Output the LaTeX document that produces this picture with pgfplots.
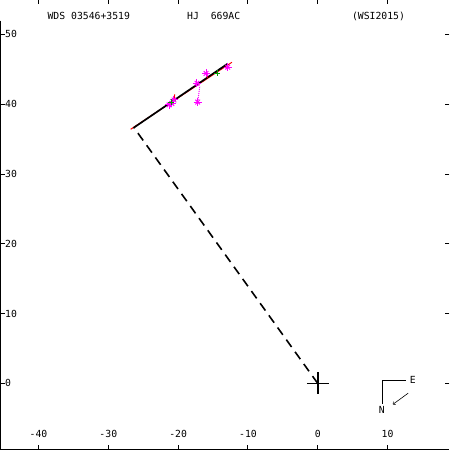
\documentclass[border=0pt]{standalone}
\usepackage{pgfplots}
\pgfplotsset{compat=1.18}
\usepackage{fontspec}
\setmainfont{DejaVu Sans Mono}
\definecolor{mag}{RGB}{255,0,255}
\definecolor{grn}{RGB}{0,160,0}
\begin{document}
\begin{tikzpicture}
\begin{axis}[
  scale only axis, width=450pt, height=450pt,
  xmin=-45.43, xmax=18.857, ymin=-9.43, ymax=54.857,
  axis line style={draw=none},
  tick align=inside, major tick length=4pt,
  tick style={black, line width=0.9pt},
  xtick={-40,-30,-20,-10,0,10}, ytick={0,10,20,30,40,50},
  /pgf/number format/assume math mode=true,
  tick label style={font=\fontsize{9.8}{11}\selectfont},
  xticklabel style={anchor=center, yshift=15pt},
  yticklabel style={anchor=west, xshift=1pt},
  clip=false,
]
\draw[black, line width=1.2pt] (rel axis cs:0,0.955) -- (rel axis cs:0,0) -- (rel axis cs:1,0);
% dashed line from origin to start of motion
\addplot[black, line width=1.6pt, dash pattern=on 9pt off 6pt] coordinates {(0,0) (-26.3,36.6)};
% red fit line
\addplot[red, line width=1pt] coordinates {(-26.8,36.4) (-12.3,46.0)};
% black fit line
\addplot[black, line width=1.7pt] coordinates {(-26.4,36.6) (-12.9,45.8)};
% residuals
\addplot[mag, line width=1pt, densely dotted] coordinates {(-17.2,40.3) (-16.9,42.6)};
\addplot[mag, line width=1pt, densely dotted] coordinates {(-17.3,43.0) (-17.1,42.5)};
\addplot[red, line width=1pt] coordinates {(-20.6,40.5) (-20.5,41.4)};
\addplot[red, line width=1pt] coordinates {(-16.0,44.4) (-15.8,43.8)};
% observations
\addplot[mag, only marks, mark=+, mark size=4pt, mark options={line width=1pt}] coordinates {
  (-16.0,44.4) (-17.3,43.0) (-17.2,40.3) (-12.9,45.3) (-20.9,40.1) (-20.6,40.6) (-21.3,39.9)};
\addplot[mag, only marks, mark=x, mark size=3.3pt, mark options={line width=1pt}] coordinates {
  (-16.0,44.4) (-17.3,43.0) (-17.2,40.3) (-12.9,45.3) (-20.9,40.1) (-20.6,40.6) (-21.3,39.9)};
\addplot[grn, only marks, mark=+, mark size=3pt, mark options={line width=1pt}] coordinates {
  (-14.4,44.4) (-21.0,40.3)};
% primary
\addplot[black, only marks, mark=+, mark size=11pt, mark options={line width=1.8pt}] coordinates {(0,0)};
% titles
\node[anchor=west, font=\fontsize{9.8}{11}\selectfont] at (axis cs:-39.2,52.57) {WDS 03546+3519};
\node[anchor=west, font=\fontsize{9.8}{11}\selectfont] at (axis cs:-19.2,52.57) {HJ\ \ 669AC};
\node[anchor=west, font=\fontsize{9.8}{11}\selectfont] at (axis cs:4.4,52.57) {(WSI2015)};
% compass
\draw[black, line width=0.8pt] (axis cs:12.57,0.38) -- (axis cs:9.33,0.38) -- (axis cs:9.33,-3.0);
\draw[black, line width=0.6pt, ->] (axis cs:12.96,-1.39) -- (axis cs:10.76,-3.0);
\node[font=\fontsize{9.8}{11}\selectfont] at (axis cs:13.6,0.52) {E};
\node[font=\fontsize{9.8}{11}\selectfont] at (axis cs:9.19,-3.75) {N};
\end{axis}
\end{tikzpicture}
\end{document}
